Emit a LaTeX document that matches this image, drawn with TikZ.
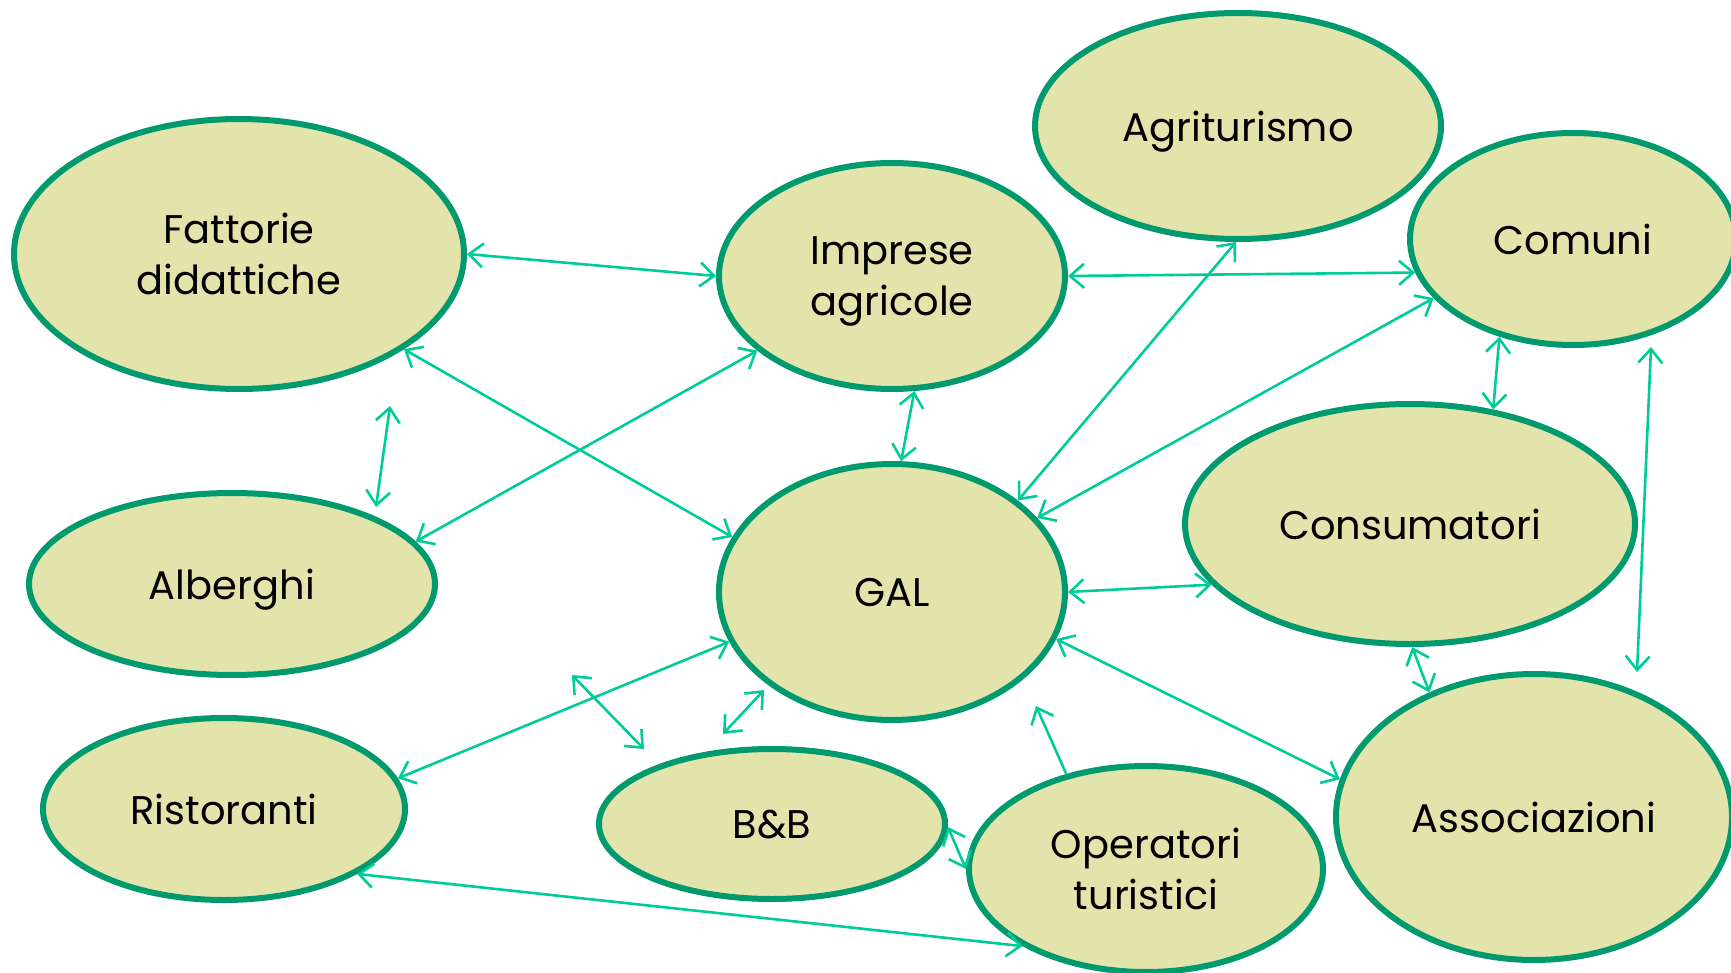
\documentclass[tikz,border=0pt]{standalone}
\usepackage{fontspec}
\setmainfont{Poppins}
\usetikzlibrary{arrows.meta,shapes.geometric}
\definecolor{nodefill}{HTML}{E3E4AB}
\definecolor{nodeline}{HTML}{009A6E}
\definecolor{linkcol}{HTML}{00CC99}
\begin{document}
\begin{tikzpicture}[x=1pt,y=-1pt,
  bubble/.style={ellipse,draw=nodeline,fill=nodefill,line width=6pt,inner sep=0pt,
    align=center,text depth=0pt,font=\fontsize{40}{51}\selectfont},
  link/.style={draw=linkcol,line width=2.6pt,{Straight Barb[length=14pt,width=24pt]}-{Straight Barb[length=14pt,width=24pt]}},
  linkone/.style={draw=linkcol,line width=2.6pt,-{Straight Barb[length=14pt,width=24pt]}}]
\useasboundingbox (0,0) rectangle (1731,973);
\node[bubble,minimum width=450pt,minimum height=270pt] (F) at (239,254) {Fattorie\\didattiche};
\node[bubble,minimum width=346pt,minimum height=226pt] (I) at (892,276) {Imprese\\agricole};
\node[bubble,minimum width=406pt,minimum height=226pt] (A) at (1238,126) {Agriturismo};
\node[bubble,minimum width=326pt,minimum height=212pt] (Co) at (1573,239) {Comuni};
\node[bubble,minimum width=406pt,minimum height=182pt] (Al) at (232,584) {Alberghi};
\node[bubble,minimum width=346pt,minimum height=256pt] (G) at (892,592) {GAL};
\node[bubble,minimum width=450pt,minimum height=240pt] (Cs) at (1410,524) {Consumatori};
\node[bubble,minimum width=362pt,minimum height=182pt] (R) at (224,809) {Ristoranti};
\node[bubble,minimum width=346pt,minimum height=150pt] (B) at (772,824) {B\&B};
\node[bubble,minimum width=354pt,minimum height=206pt] (O) at (1146,869) {Operatori\\turistici};
\node[bubble,minimum width=396pt,minimum height=286pt] (As) at (1534,817) {Associazioni};
% free ends
\coordinate (d1) at (390,406);
\coordinate (d2) at (376,507);
\coordinate (j1) at (1651,347);
\coordinate (j2) at (1637,672);
\coordinate (n2) at (1036,706);
\coordinate (r1) at (572,675);
\coordinate (r2) at (644,749);
\coordinate (s1) at (764,690);
\coordinate (s2) at (723,734);
% connectors
\draw[link] (F.0) -- (I.180);
\draw[link] (F.-30.6) -- (G.161);
\draw[link] (I.-151.4) -- (Al.13.3);
\draw[link] (d1) -- (d2);
\draw[link] (I.-79) -- (G.86);
\draw[link] (I.0) -- (Co.-168.7);
\draw[link] (G.36.6) -- (A.-91.5);
\draw[link] (G.27.5) -- (Co.-157.7);
\draw[link] (Co.-127.6) -- (Cs.54.6);
\draw[link] (j1) -- (j2);
\draw[link] (G.0) -- (Cs.-163.9);
\draw[link] (Cs.-89) -- (As.130.2);
\draw[link] (G.-16.8) -- (As.169.5);
\draw[linkone] (O.130.4) -- (n2);
\draw[link] (B.-1) -- (O.180);
\draw[link] (R.-26.2) -- (O.-148.2);
\draw[link] (R.10.8) -- (G.-163.4);
\draw[link] (r1) -- (r2);
\draw[link] (s1) -- (s2);
\end{tikzpicture}
\end{document}
